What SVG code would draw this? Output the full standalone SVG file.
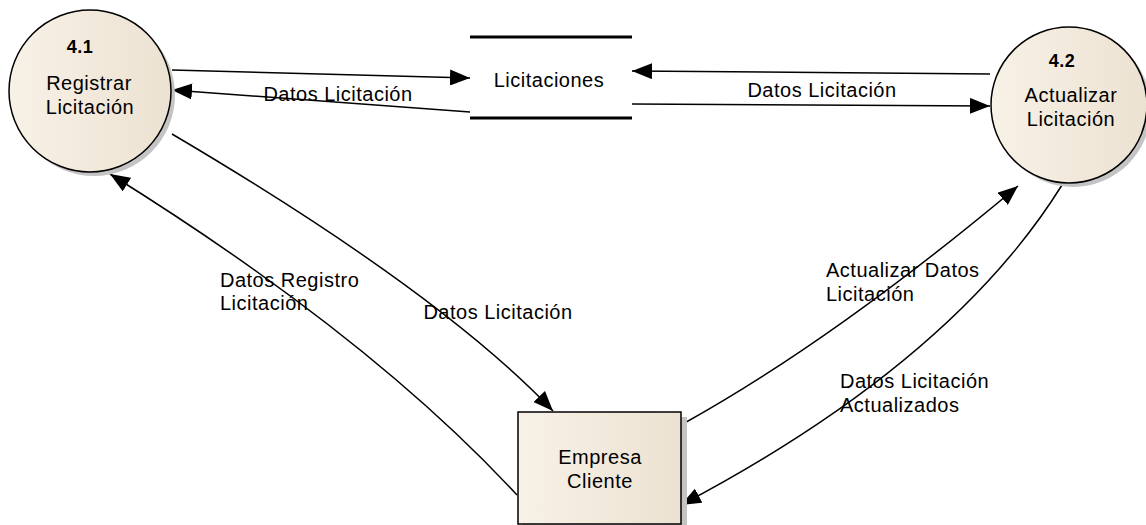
<svg xmlns="http://www.w3.org/2000/svg" width="1146" height="525" viewBox="0 0 1146 525">
<defs>
<linearGradient id="fillG" x1="0" y1="0" x2="1" y2="0">
<stop offset="0" stop-color="#f8f1e6"/>
<stop offset="1" stop-color="#ece2d2"/>
</linearGradient>
<marker id="arr" viewBox="0 0 20 16" refX="20" refY="8" markerWidth="20" markerHeight="16" markerUnits="userSpaceOnUse" orient="auto">
<path d="M0,0 L20,8 L0,16 Z" fill="#000"/>
</marker>
</defs>
<style>
text{font-family:"Liberation Sans",Arial,sans-serif;font-size:20px;letter-spacing:0.5px;fill:#000}
.c{text-anchor:middle}
.b{font-weight:bold;font-size:18px;letter-spacing:0.5px}
.node{fill:url(#fillG);stroke:#000;stroke-width:1.5}
.sh{fill:#c4c4c4}
.flow{fill:none;stroke:#000;stroke-width:1.5;marker-end:url(#arr)}
.store{stroke:#000;stroke-width:3}
</style>
<rect width="1146" height="525" fill="#fff"/>
<g id="connectors">
<path class="flow" d="M172,70 L470,78"/>
<path class="flow" d="M470,112 L172,90"/>
<path class="flow" d="M990,74 L632,71"/>
<path class="flow" d="M632,104 L990,106"/>
<path class="flow" d="M172,134 Q440,292 553,411"/>
<path class="flow" d="M517,495 Q370,336 110,174"/>
<path class="flow" d="M681,425 Q833,341 1018,186"/>
<path class="flow" d="M1062,185 Q952,362 681,505"/>
</g>
<g id="n41">
<circle class="sh" cx="94" cy="95" r="81"/>
<circle class="node" cx="90" cy="91" r="81"/>
<text class="c b" x="80" y="53">4.1</text>
<text class="c" x="89" y="90">Registrar</text>
<text class="c" x="90" y="114">Licitación</text>
</g>
<g id="n42">
<circle class="sh" cx="1073" cy="109" r="78"/>
<circle class="node" cx="1069" cy="105" r="78"/>
<text class="c b" x="1062" y="67">4.2</text>
<text class="c" x="1071" y="102">Actualizar</text>
<text class="c" x="1071" y="126">Licitación</text>
</g>
<g id="store">
<line class="store" x1="470" y1="37" x2="632" y2="37"/>
<line class="store" x1="470" y1="118" x2="632" y2="118"/>
<text class="c" x="549" y="87">Licitaciones</text>
</g>
<g id="empresa">
<rect class="sh" x="523" y="417" width="164" height="112"/>
<rect class="node" x="518" y="412" width="163" height="112"/>
<text class="c" x="600" y="464">Empresa</text>
<text class="c" x="600" y="488">Cliente</text>
</g>
<g id="labels">
<text class="c" x="338" y="101">Datos Licitación</text>
<text class="c" x="822" y="97">Datos Licitación</text>
<text class="c" x="498" y="319">Datos Licitación</text>
<text x="220" y="287">Datos Registro</text>
<text x="220" y="310">Licitación</text>
<text x="826" y="277">Actualizar Datos</text>
<text x="826" y="301">Licitación</text>
<text x="840" y="388">Datos Licitación</text>
<text x="840" y="412">Actualizados</text>
</g>
</svg>
